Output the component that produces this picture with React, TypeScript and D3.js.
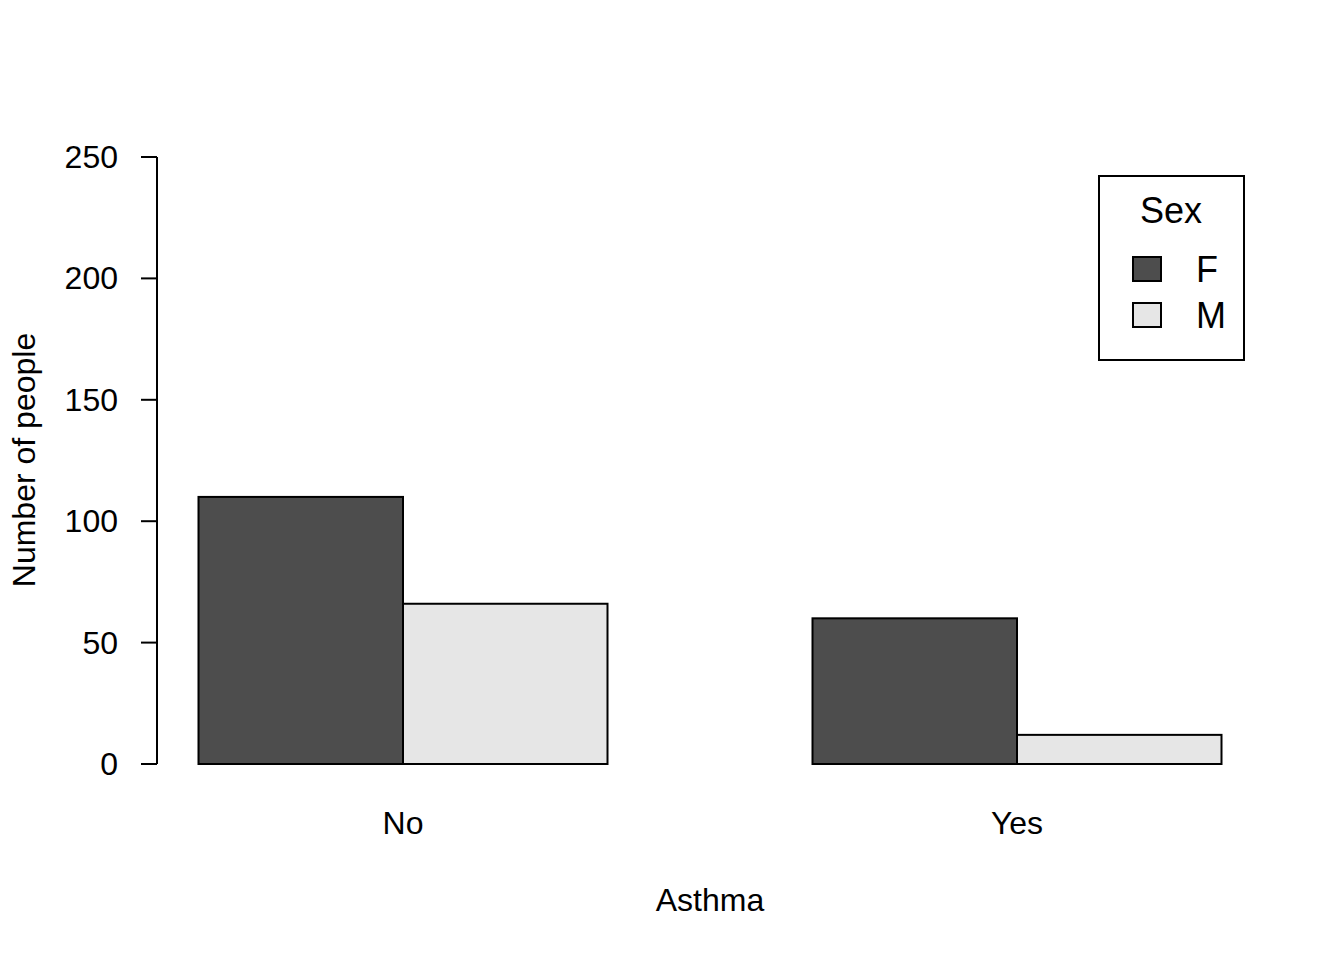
import React from "react";
import * as d3 from "d3";

const categories = ["No", "Yes"];
const sexes = ["F", "M"];
const valuesF = [110, 60];
const valuesM = [66, 12];
const yTicks = [0, 50, 100, 150, 200, 250];
const colors = ["#4d4d4d", "#e6e6e6"];

export default function App() {
  const W = 1344, H = 960;
  const font = "'Liberation Sans', Arial, sans-serif";
  const y = d3.scaleLinear().domain([0, 250]).range([764, 157]);
  const groupX = d3.scalePoint().domain(categories).range([403, 1017]);
  const barW = 204.5;
  const series = [valuesF, valuesM];
  return (
    <svg width={W} height={H} style={{ display: "block", position: "absolute", left: 0, top: 0 }} fontFamily={font}>
      <rect width={W} height={H} fill="#fff" />
      {categories.map((c, ci) =>
        series.map((s, si) => {
          const cx = groupX(c)!;
          const x = cx + (si - 1) * barW;
          return (
            <rect key={c + si} x={x} y={y(s[ci])} width={barW} height={y(0) - y(s[ci])}
              fill={colors[si]} stroke="#000" strokeWidth={2} />
          );
        })
      )}
      <line x1={157} x2={157} y1={y(0)} y2={y(250)} stroke="#000" strokeWidth={2} />
      {yTicks.map(t => (
        <g key={t}>
          <line x1={141} x2={157} y1={y(t)} y2={y(t)} stroke="#000" strokeWidth={2} />
          <text x={118} y={y(t)} textAnchor="end" dominantBaseline="central" fontSize={32}>{t}</text>
        </g>
      ))}
      {categories.map(c => (
        <text key={c} x={groupX(c)} y={823} textAnchor="middle" dominantBaseline="central" fontSize={32}>{c}</text>
      ))}
      <text x={710} y={900} textAnchor="middle" dominantBaseline="central" fontSize={32}>Asthma</text>
      <text transform="translate(24,460) rotate(-90)" textAnchor="middle" dominantBaseline="central" fontSize={32}>Number of people</text>
      <rect x={1099} y={176} width={145} height={184} fill="none" stroke="#000" strokeWidth={2} />
      <text x={1171} y={210} textAnchor="middle" dominantBaseline="central" fontSize={36}>Sex</text>
      {sexes.map((s, i) => (
        <g key={s}>
          <rect x={1133} y={257 + i * 46} width={28} height={24} fill={colors[i]} stroke="#000" strokeWidth={2} />
          <text x={1196} y={269 + i * 46} dominantBaseline="central" fontSize={36}>{s}</text>
        </g>
      ))}
    </svg>
  );
}
